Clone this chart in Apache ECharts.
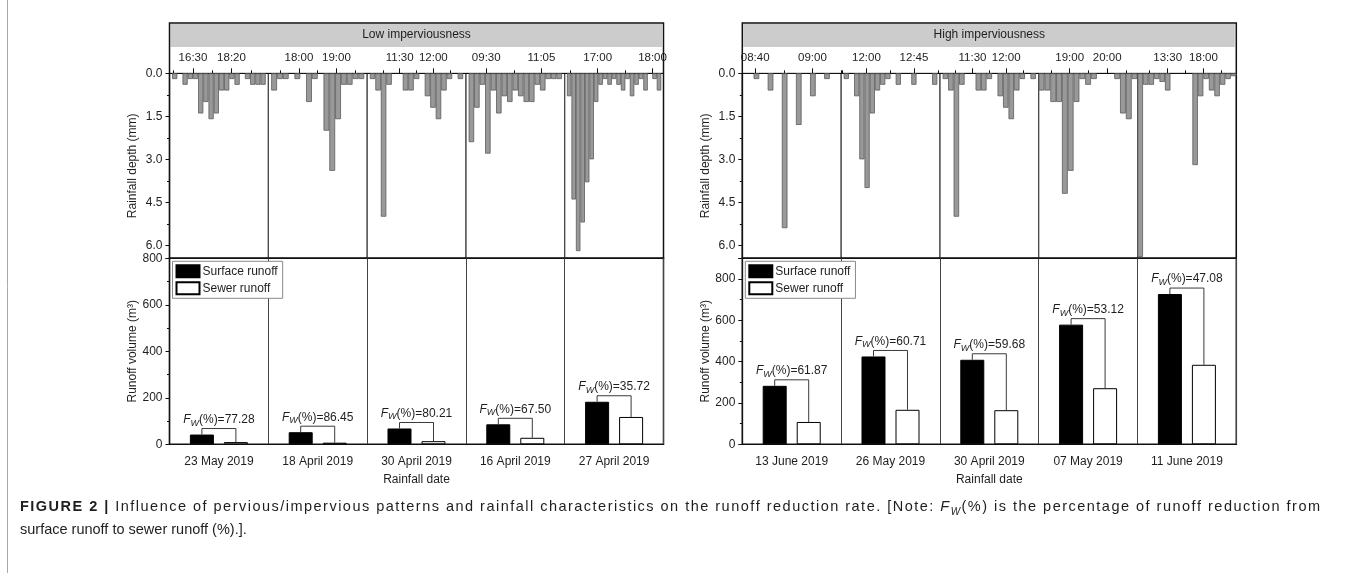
<!DOCTYPE html>
<html>
<head>
<meta charset="utf-8">
<script src="https://cdn.jsdelivr.net/npm/echarts@6/dist/echarts.min.js"></script>
<style>
  html, body { margin: 0; padding: 0; background: #ffffff; }
  #chart { width: 1356px; height: 573px; }
</style>
</head>
<body>
<div id="chart"></div>
<script>
// ---------------- Data ----------------
const lowDates  = ['23 May 2019', '18 April 2019', '30 April 2019', '16 April 2019', '27 April 2019'];
const highDates = ['13 June 2019', '26 May 2019', '30 April 2019', '07 May 2019', '11 June 2019'];

// Runoff volume (m³)
const lowSurface  = [42, 52, 68, 86, 183];
const lowSewer    = [9.5, 7, 13.5, 28, 117.6];
const highSurface = [283, 425, 409, 579, 727];
const highSewer   = [108, 167, 165, 271.4, 384.7];

// Runoff reduction rate F_W (%)
const lowFw  = [77.28, 86.45, 80.21, 67.50, 35.72];
const highFw = [61.87, 60.71, 59.68, 53.12, 47.08];

// Rainfall depth per recording interval (mm)
const rain23May = [0, 0.2, 0, 0.4, 0.2, 0.2, 1.4, 1.0, 1.6, 1.4, 0.6, 0.6, 0.2, 0.4, 0, 0.2, 0.4, 0.4, 0.4, 0];
const rain18Apr = [0, 0.6, 0.2, 0.2, 0, 0.2, 0, 1.0, 0.2, 0, 2.0, 3.4, 1.6, 0.4, 0.4, 0.2, 0.2, 0];
const rain30Apr = [0, 0.2, 0.6, 5.0, 0.4, 0, 0, 0.6, 0.6, 0.2, 0, 0.8, 1.2, 1.6, 0.6, 0.2, 0, 0.2, 0];
const rain16Apr = [0, 2.4, 1.2, 0.4, 2.8, 0.6, 1.4, 0.8, 1.0, 0.6, 0.8, 1.0, 1.0, 0.4, 0.6, 0.2, 0.2, 0.2, 0];
const rain27Apr = [0, 0.8, 4.4, 6.2, 5.2, 3.8, 3.0, 1.0, 0.4, 0.2, 0.4, 0.2, 0.4, 0.6, 0.2, 0.8, 0.4, 0.2, 0.6, 0, 0.2, 0.6, 0];
const rain13Jun = [0, 0.2, 0.6, 5.4, 1.8, 0.8, 0.2, 0];
const rain26May = [0, 0.2, 0, 0.8, 3.0, 4.0, 1.4, 0.6, 0.4, 0.2, 0, 0.4, 0, 0, 0.4, 0, 0, 0, 0.4, 0];
const rain07May = [0.6, 0.6, 1.0, 1.0, 4.2, 3.4, 1.0, 0.2, 0.4, 0.2, 0, 0, 0, 0.2, 1.4, 1.6, 0.2];
const rain11Jun = [6.4, 0.4, 0.4, 0.2, 0.3, 0.6, 0, 0, 0, 0, 3.2, 0.8, 0.2, 0.6, 0.8, 0.4, 0.2, 0.1];

const lowRain  = [rain23May, rain18Apr, rain30Apr, rain16Apr, rain27Apr];
const highRain = [rain13Jun, rain26May, rain30Apr, rain07May, rain11Jun];
// true: depths sit on interval boundaries, false: on interval midpoints
const lowOnEdges  = [true, true, true, true, true];
const highOnEdges = [true, true, true, false, false];

// Time window of each event and its time-axis ticks
const lowStart = ['15:23', '17:11', '11:01', '08:55', '16:24'];
const lowEnd   = ['20:05', '19:49', '12:29', '11:45', '18:12'];
const lowMajor = [['16:30', '18:20'], ['18:00', '19:00'], ['11:30', '12:00'], ['09:30', '11:05'], ['17:00', '18:00']];
const lowMinor = [['15:35', '17:25', '19:15'], ['17:30', '18:30', '19:30'], ['11:15', '11:45', '12:15'], ['10:17:30'], ['16:30', '17:30']];

const highStart = ['08:35:30', '11:36', '11:01', '18:10:30', '09:43'];
const highEnd   = ['09:10', '13:09:30', '12:29', '20:48:30', '22:07'];
const highMajor = [['08:40', '09:00'], ['12:00', '12:45'], ['11:30', '12:00'], ['19:00', '20:00'], ['13:30', '18:00']];
const highMinor = [['08:50', '09:10'], ['11:37:30', '12:22:30', '13:07:30'], ['11:15', '11:45', '12:15'], ['18:30', '19:30', '20:30'], ['11:15', '15:45', '20:15']];

// Caption
const captionLine1 = 'FIGURE 2 | Influence of pervious/impervious patterns and rainfall characteristics on the runoff reduction rate. [Note: F_W(%) is the percentage of runoff reduction from';
const captionLine2 = 'surface runoff to sewer runoff (%).].';

// ---------------- Layout & style ----------------
const FONT = "'Liberation Sans', Arial, Helvetica, sans-serif";
const TEXT = '#1e1e1e';
const INK = '#111111';
const PANEL_X = [169.5, 742.3];
const PANEL_W = 494;
const HEADER_TOP = 23, BAND_BOTTOM = 47, RAIN_TOP = 73.3, SPLIT_Y = 258.3, BASE_Y = 444.3;
const RAIN_MAX = 6.45;
const RUNOFF_BAR_W = 24, RUNOFF_BAR_GAP = 10;
const BRACKET_RISE = 6;
const CAP_LEFT = 20, CAP_WIDTH = 1300, CAP_SIZE = 14.5;

const panels = [
  { name: 'Low imperviousness', dates: lowDates, surface: lowSurface, sewer: lowSewer, fw: lowFw,
    rain: lowRain, onEdges: lowOnEdges, barShare: [1, 1, 1, 1, 1],
    start: lowStart, end: lowEnd, major: lowMajor, minor: lowMinor, runoffMax: 800 },
  { name: 'High imperviousness', dates: highDates, surface: highSurface, sewer: highSewer, fw: highFw,
    rain: highRain, onEdges: highOnEdges, barShare: [0.4, 1, 1, 1, 1],
    start: highStart, end: highEnd, major: highMajor, minor: highMinor, runoffMax: 900 }
];

function toMin(t) {
  const p = t.split(':').map(Number);
  return p[0] * 60 + p[1] + (p[2] || 0) / 60;
}
function pad(n) { return (n < 10 ? '0' : '') + n; }
function fmt(m) {
  const h = Math.floor(m / 60);
  const mm = Math.floor(m - h * 60);
  const s = Math.round((m - Math.floor(m)) * 60);
  return pad(h) + ':' + pad(mm) + (s ? ':' + pad(s) : '');
}

const fwRich = {
  f: { fontFamily: FONT, fontSize: 12, fontStyle: 'italic', fontWeight: 'normal', lineHeight: 16, verticalAlign: 'middle', fill: TEXT, color: TEXT },
  w: { fontFamily: FONT, fontSize: 9, fontStyle: 'italic', fontWeight: 'normal', lineHeight: 9, verticalAlign: 'bottom', fill: TEXT, color: TEXT },
  t: { fontFamily: FONT, fontSize: 12, fontWeight: 'normal', lineHeight: 16, verticalAlign: 'middle', fill: TEXT, color: TEXT }
};

function bracketItem(params, api) {
  const i = api.value(0);
  const surf = api.coord([i, api.value(1)]);
  const sew = api.coord([i, api.value(2)]);
  const f = api.value(3);
  const half = (RUNOFF_BAR_W + RUNOFF_BAR_GAP) / 2;
  const lx = surf[0] - half, rx = surf[0] + half;
  const yB = surf[1] - BRACKET_RISE;
  return {
    type: 'group',
    children: [
      { type: 'polyline', shape: { points: [[lx, surf[1]], [lx, yB], [rx, yB], [rx, sew[1]]] },
        style: { stroke: '#3a3a3a', lineWidth: 1, fill: null } },
      { type: 'text', x: surf[0], y: yB - 1,
        style: { text: '{f|F}{w|W}{t|(%)=' + f.toFixed(2) + '}', rich: fwRich,
                 align: 'center', verticalAlign: 'bottom', fill: TEXT, fontFamily: FONT, fontSize: 12 } }
    ]
  };
}

const grid = [], xAxis = [], yAxis = [], series = [], title = [], legend = [];

panels.forEach((pn, p) => {
  const x0 = PANEL_X[p];
  const segW = PANEL_W / 5;

  // grey header band with panel title
  grid.push({ left: x0 + 1, top: HEADER_TOP + 0.8, width: PANEL_W - 2.5, height: BAND_BOTTOM - HEADER_TOP - 0.8,
              show: true, backgroundColor: '#cccccc', borderWidth: 0, outerBoundsMode: 'none' });
  title.push({ text: pn.name, left: x0 + PANEL_W / 2, top: 29, textAlign: 'center', padding: 0,
               textStyle: { fontFamily: FONT, fontSize: 12, fontWeight: 'normal', color: TEXT } });

  // one rainfall hyetograph per event
  for (let s = 0; s < 5; s++) {
    const gi = grid.length;
    grid.push({ left: x0 + s * segW, top: RAIN_TOP, width: segW, height: SPLIT_Y - RAIN_TOP,
                show: true, borderColor: '#444444', borderWidth: 1, backgroundColor: 'transparent', outerBoundsMode: 'none' });
    const rain = pn.rain[s];
    const barAxis = xAxis.length;
    xAxis.push({ type: 'category', gridIndex: gi, data: rain.map((_, i) => i),
                 boundaryGap: !pn.onEdges[s], show: false });

    const t0 = toMin(pn.start[s]), t1 = toMin(pn.end[s]);
    const cats = [];
    for (let k = 0; t0 + k * 0.5 <= t1 + 1e-6; k++) cats.push(fmt(t0 + k * 0.5));
    const idxOf = t => Math.round((toMin(t) - t0) / 0.5);
    const majorIdx = new Set(pn.major[s].map(idxOf));
    const minorIdx = new Set(pn.minor[s].map(idxOf));
    xAxis.push({ type: 'category', gridIndex: gi, position: 'top', data: cats, boundaryGap: false,
                 axisLine: { show: true, lineStyle: { color: INK, width: 1.2 } },
                 axisTick: { show: true, length: 5, interval: i => majorIdx.has(i), lineStyle: { color: INK, width: 1 } },
                 axisLabel: { show: true, interval: i => majorIdx.has(i), margin: 9, fontSize: 11.5,
                              color: TEXT, fontFamily: FONT },
                 splitLine: { show: false } });
    xAxis.push({ type: 'category', gridIndex: gi, position: 'top', data: cats, boundaryGap: false,
                 axisLine: { show: false },
                 axisTick: { show: true, length: 3, interval: i => minorIdx.has(i), lineStyle: { color: INK, width: 1 } },
                 axisLabel: { show: false }, splitLine: { show: false } });

    const first = s === 0;
    const yi = yAxis.length;
    yAxis.push({ type: 'value', gridIndex: gi, inverse: true, min: 0, max: RAIN_MAX, interval: 1.5,
                 show: first,
                 axisLine: { show: first, lineStyle: { color: INK, width: 1.2 } },
                 axisTick: { show: first, length: 4, lineStyle: { color: INK } },
                 minorTick: { show: first, splitNumber: 2, length: 2.5, lineStyle: { color: INK } },
                 splitLine: { show: false }, minorSplitLine: { show: false },
                 axisLabel: { show: first, showMaxLabel: false, margin: 7, fontSize: 12, color: TEXT, fontFamily: FONT,
                              formatter: v => v.toFixed(1) },
                 name: first ? 'Rainfall depth (mm)' : '', nameLocation: 'middle', nameGap: 31,
                 nameTextStyle: { fontSize: 12, color: TEXT, fontFamily: FONT } });

    series.push({ type: 'bar', xAxisIndex: barAxis, yAxisIndex: yi, silent: true,
                  data: rain.map(v => (v > 0 ? v : '-')),
                  barCategoryGap: Math.round((1 - pn.barShare[s]) * 100) + '%',
                  itemStyle: { color: '#999999', borderColor: '#5c5c5c', borderWidth: 0.8 } });
  }

  // outer frame of the rainfall panel
  grid.push({ left: x0, top: HEADER_TOP, width: PANEL_W, height: SPLIT_Y - HEADER_TOP,
              show: true, borderColor: INK, borderWidth: 1.5, backgroundColor: 'transparent', outerBoundsMode: 'none' });

  // runoff volume panel
  const bg = grid.length;
  grid.push({ left: x0, top: SPLIT_Y, width: PANEL_W, height: BASE_Y - SPLIT_Y,
              show: true, borderColor: INK, borderWidth: 1.5, backgroundColor: 'transparent', outerBoundsMode: 'none' });
  const bx = xAxis.length;
  xAxis.push({ type: 'category', gridIndex: bg, data: pn.dates, boundaryGap: true,
               axisLine: { show: true, lineStyle: { color: INK, width: 1.2 } },
               axisTick: { show: false },
               axisLabel: { fontSize: 12, color: TEXT, fontFamily: FONT, margin: 11, interval: 0 },
               splitLine: { show: true, interval: 0, lineStyle: { color: '#444444', width: 1 } },
               name: 'Rainfall date', nameLocation: 'middle', nameGap: 29,
               nameTextStyle: { fontSize: 12, color: TEXT, fontFamily: FONT } });
  const by = yAxis.length;
  yAxis.push({ type: 'value', gridIndex: bg, min: 0, max: pn.runoffMax, interval: 200,
               axisLine: { show: true, lineStyle: { color: INK, width: 1.2 } },
               axisTick: { show: true, length: 4, lineStyle: { color: INK } },
               minorTick: { show: true, splitNumber: 2, length: 2.5, lineStyle: { color: INK } },
               splitLine: { show: false }, minorSplitLine: { show: false },
               axisLabel: { fontSize: 12, color: TEXT, fontFamily: FONT, margin: 7,
                            showMaxLabel: pn.runoffMax % 200 === 0 },
               name: 'Runoff volume (m³)', nameLocation: 'middle', nameGap: 31,
               nameTextStyle: { fontSize: 12, color: TEXT, fontFamily: FONT } });

  series.push({ type: 'bar', name: 'Surface runoff', xAxisIndex: bx, yAxisIndex: by, data: pn.surface,
                barWidth: RUNOFF_BAR_W, barGap: (RUNOFF_BAR_GAP / RUNOFF_BAR_W * 100).toFixed(1) + '%',
                itemStyle: { color: '#000000', borderColor: '#000000', borderWidth: 1 } });
  series.push({ type: 'bar', name: 'Sewer runoff', xAxisIndex: bx, yAxisIndex: by, data: pn.sewer,
                barWidth: RUNOFF_BAR_W,
                itemStyle: { color: '#ffffff', borderColor: '#000000', borderWidth: 1 } });
  series.push({ type: 'custom', xAxisIndex: bx, yAxisIndex: by, silent: true, z: 4,
                encode: { x: 0, y: [1, 2] },
                data: pn.dates.map((d, i) => [i, pn.surface[i], pn.sewer[i], pn.fw[i]]),
                renderItem: bracketItem });

  legend.push({ left: x0 + 3, top: SPLIT_Y + 3, orient: 'vertical', selectedMode: false,
                data: ['Surface runoff', 'Sewer runoff'], icon: 'rect',
                itemWidth: 23, itemHeight: 12, itemGap: 3, padding: [3, 5, 3, 3],
                borderColor: '#8a8a8a', borderWidth: 1, backgroundColor: '#ffffff',
                textStyle: { fontSize: 12, color: TEXT, fontFamily: FONT, padding: [0, 0, 0, -2] } });
});

// ---------------- Figure caption (first line justified by even tracking) ----------------
const capRich = {
  b: { fontFamily: FONT, fontSize: CAP_SIZE, fontStyle: 'normal', fontWeight: 'bold', lineHeight: 20, verticalAlign: 'middle', color: TEXT },
  r: { fontFamily: FONT, fontSize: CAP_SIZE, fontStyle: 'normal', fontWeight: 'normal', lineHeight: 20, verticalAlign: 'middle', color: TEXT },
  i: { fontFamily: FONT, fontSize: CAP_SIZE, fontStyle: 'italic', fontWeight: 'normal', lineHeight: 20, verticalAlign: 'middle', color: TEXT },
  s: { fontFamily: FONT, fontSize: 10, fontStyle: 'italic', fontWeight: 'normal', lineHeight: 10, verticalAlign: 'bottom', color: TEXT }
};
const measureCtx = document.createElement('canvas').getContext('2d');
function glyphWidth(styleName, ch) {
  const st = capRich[styleName];
  measureCtx.font = st.fontStyle + ' ' + st.fontWeight + ' ' + st.fontSize + 'px ' + FONT;
  return measureCtx.measureText(ch).width;
}
// split the first line into styled characters
const capChars = [];
captionLine1.split(' ').forEach((w, k, all) => {
  const bold = k < 3;
  let runs;
  if (bold) runs = [['b', w]];
  else if (w === 'F_W(%)') runs = [['i', 'F'], ['s', 'W'], ['r', '(%)']];
  else runs = [['r', w]];
  runs.forEach(([st, tx]) => { for (const ch of tx) capChars.push([st, ch]); });
  if (k < all.length - 1) capChars.push([bold ? 'b' : 'r', ' ']);
});
const capNatural = capChars.reduce((sum, [st, ch]) => sum + glyphWidth(st, ch), 0);
const capTrack = (CAP_WIDTH - capNatural) / (capChars.length - 1);
const capLine1Rich = capChars.map(([st, ch]) => {
  const key = st + '_' + ch.charCodeAt(0);
  if (!capRich[key]) capRich[key] = Object.assign({}, capRich[st], { width: glyphWidth(st, ch) + capTrack });
  return '{' + key + '|' + ch + '}';
}).join('');

title.push({ left: CAP_LEFT, top: 497, padding: 0,
             text: capLine1Rich,
             textStyle: { fontWeight: 'normal', fontSize: CAP_SIZE, fontFamily: FONT, rich: capRich } });
title.push({ left: CAP_LEFT, top: 520, padding: 0,
             text: '{r|' + captionLine2 + '}',
             textStyle: { fontWeight: 'normal', fontSize: CAP_SIZE, fontFamily: FONT, rich: capRich } });

const chart = echarts.init(document.getElementById('chart'), null, { renderer: 'canvas' });
chart.setOption({
  animation: false,
  backgroundColor: '#ffffff',
  title, legend, grid, xAxis, yAxis, series,
  graphic: [{ type: 'line', shape: { x1: 7.5, y1: 0, x2: 7.5, y2: 573 }, style: { stroke: '#a8a8a8', lineWidth: 1 }, silent: true }]
});
</script>
</body>
</html>
